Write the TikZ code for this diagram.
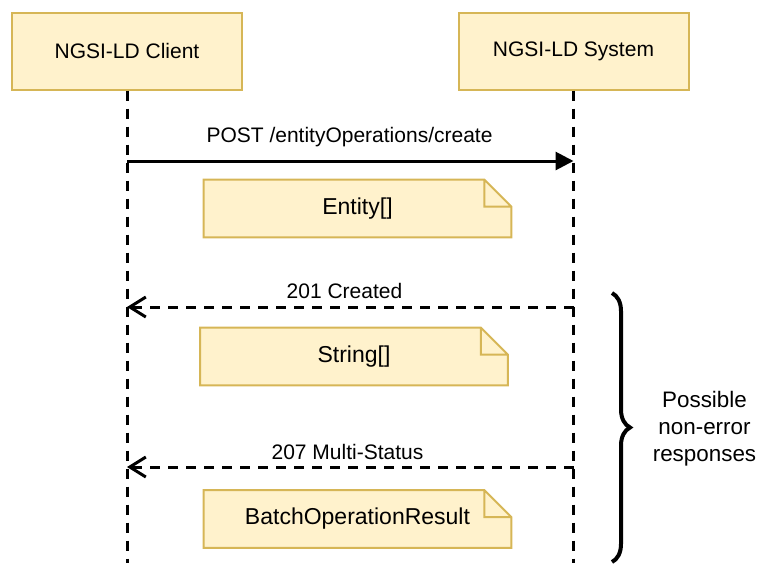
\documentclass[tikz,border=0pt]{standalone}
\usepackage{fontspec}
\setmainfont{Liberation Sans}
\usepackage{xcolor}
\usetikzlibrary{arrows.meta,decorations.pathreplacing}
\definecolor{notefill}{HTML}{FFF2CC}
\definecolor{notedraw}{HTML}{D6B656}
\newcommand{\dogear}[1]{%
  \fill[white] ([xshift=-13.5pt]#1.north east) -- (#1.north east) -- ([yshift=-13.5pt]#1.north east) -- cycle;
  \draw[notedraw, line width=1pt] (#1.south west) -- (#1.north west) -- ([xshift=-13.5pt]#1.north east)
    -- ([yshift=-13.5pt]#1.north east) -- (#1.south east) -- cycle
    ([xshift=-13.5pt]#1.north east) |- ([yshift=-13.5pt]#1.north east);}

\begin{document}
\begin{tikzpicture}[x=0.5pt, y=-0.5pt, font=\fontsize{10.5}{13.5}\selectfont,
    actor/.style={fill=notefill, draw=notedraw, line width=1pt, minimum width=115pt, minimum height=38.5pt},
    note/.style={fill=notefill, minimum width=153.5pt, minimum height=28.5pt, font=\fontsize{11.5}{13.5}\selectfont},
    lifeline/.style={line width=1.5pt, dash pattern=on 5pt off 4pt},
    call/.style={line width=1.5pt, -{Triangle[length=9pt,width=9pt]}},
    reply/.style={line width=1.5pt, dash pattern=on 5pt off 4pt, -{Straight Barb[length=8pt,width=10pt]}}]
\useasboundingbox (0,0) rectangle (760,563);
\node[actor] (client) at (127,51) {NGSI-LD Client};
\node[actor] (system) at (573.5,51) {NGSI-LD System};
\coordinate (clientend) at (127,563);
\coordinate (systemend) at (573.5,563);
\draw[lifeline] (client) -- (clientend);
\draw[lifeline] (system) -- (systemend);

\node (postlbl) at (349.5,137) {POST /entityOperations/create};
\draw[call] (client |- 0,161) -- (system |- 0,161);
\node[note] (entity) at (357.5,208.5) {Entity[]};
\dogear{entity}

\node (createdlbl) at (344.5,291) {201 Created};
\draw[reply] (system |- 0,307) -- (client |- 0,307);
\node[note] (strings) at (354,356.5) {String[]};
\dogear{strings}

\node (multilbl) at (347.5,452) {207 Multi-Status};
\draw[reply] (system |- 0,467) -- (client |- 0,467);
\node[note] (batch) at (357.5,519) {BatchOperationResult};
\dogear{batch}

\coordinate (bracetop) at (612,293);
\coordinate (bracebot) at (612,562);
\draw[line width=2pt, decorate, decoration={brace, amplitude=9pt}] (bracetop) -- (bracebot);
\node[align=center, font=\fontsize{11.2}{13.5}\selectfont] (possible) at (704.5,429) {Possible\\non-error\\responses};
\end{tikzpicture}
\end{document}
